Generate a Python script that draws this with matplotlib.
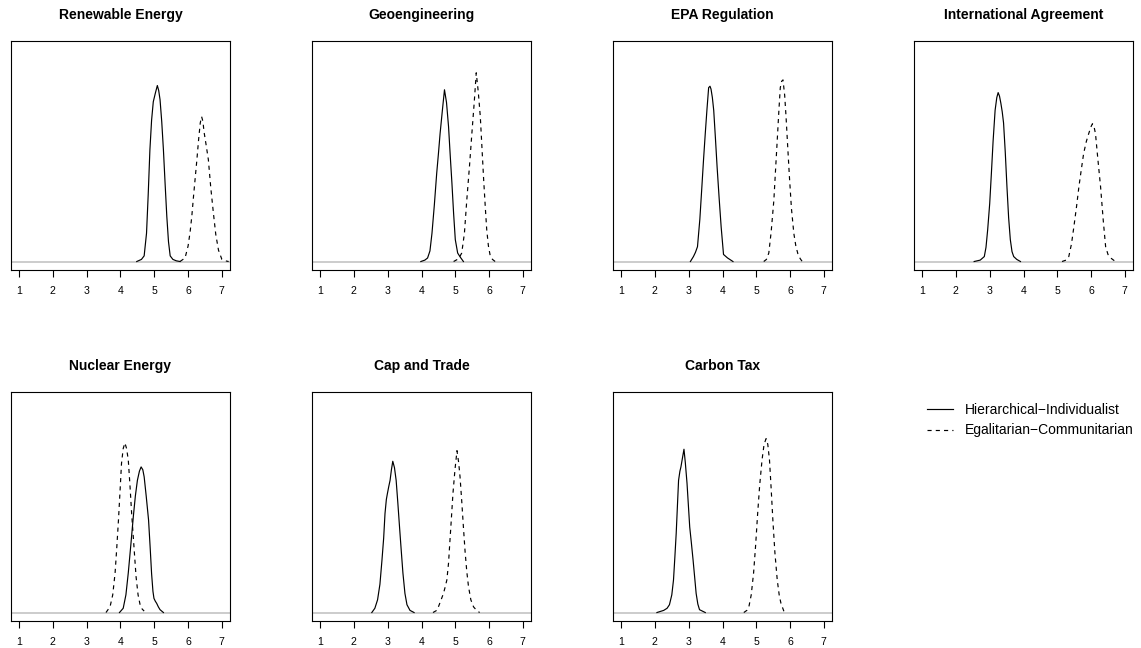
import matplotlib
matplotlib.use("Agg")
import matplotlib.pyplot as plt

plt.rcParams['font.family'] = ['Liberation Sans', 'DejaVu Sans']

# density curves: x = rating (1-7), y = density
renewable_hi_x = [4.48, 4.62, 4.70, 4.77, 4.82, 4.87, 4.92, 4.97, 5.03, 5.09, 5.13, 5.17, 5.22, 5.27, 5.32, 5.37, 5.42, 5.47, 5.55, 5.65, 5.76]
renewable_hi_y = [0, 0.03, 0.08, 0.40, 0.95, 1.58, 2.00, 2.26, 2.38, 2.49, 2.42, 2.29, 1.98, 1.58, 1.10, 0.64, 0.28, 0.08, 0.03, 0.01, 0]
renewable_eg_x = [5.76, 5.91, 6.00, 6.06, 6.11, 6.16, 6.21, 6.26, 6.31, 6.36, 6.40, 6.44, 6.47, 6.53, 6.60, 6.67, 6.75, 6.82, 6.90, 7.00, 7.10, 7.20]
renewable_eg_y = [0, 0.05, 0.22, 0.42, 0.64, 0.92, 1.18, 1.44, 1.72, 1.96, 2.05, 1.98, 1.84, 1.66, 1.44, 1.05, 0.68, 0.38, 0.16, 0.03, 0.01, 0]

geo_hi_x = [3.98, 4.10, 4.18, 4.25, 4.31, 4.38, 4.45, 4.50, 4.55, 4.62, 4.68, 4.74, 4.80, 4.85, 4.90, 4.95, 5.00, 5.07, 5.15, 5.24]
geo_hi_y = [0, 0.02, 0.05, 0.15, 0.40, 0.80, 1.25, 1.52, 1.81, 2.15, 2.43, 2.25, 1.91, 1.50, 1.11, 0.68, 0.31, 0.12, 0.06, 0]
geo_eg_x = [4.95, 5.10, 5.19, 5.27, 5.34, 5.42, 5.49, 5.56, 5.62, 5.68, 5.74, 5.79, 5.84, 5.89, 5.93, 5.98, 6.03, 6.10, 6.18]
geo_eg_y = [0, 0.04, 0.12, 0.40, 0.87, 1.35, 1.81, 2.25, 2.67, 2.40, 2.05, 1.60, 1.15, 0.75, 0.45, 0.22, 0.09, 0.03, 0]

epa_hi_x = [3.05, 3.14, 3.20, 3.26, 3.33, 3.39, 3.44, 3.49, 3.54, 3.59, 3.63, 3.66, 3.70, 3.74, 3.79, 3.84, 3.90, 3.96, 4.03, 4.15, 4.31]
epa_hi_y = [0, 0.07, 0.13, 0.21, 0.60, 1.06, 1.45, 1.81, 2.15, 2.46, 2.48, 2.44, 2.32, 2.14, 1.75, 1.34, 0.90, 0.49, 0.10, 0.05, 0]
epa_eg_x = [5.22, 5.30, 5.37, 5.44, 5.52, 5.57, 5.62, 5.67, 5.71, 5.75, 5.79, 5.84, 5.88, 5.93, 5.98, 6.04, 6.11, 6.17, 6.23, 6.30, 6.36]
epa_eg_y = [0, 0.03, 0.12, 0.42, 0.87, 1.30, 1.72, 2.15, 2.46, 2.55, 2.57, 2.35, 2.05, 1.62, 1.20, 0.75, 0.40, 0.22, 0.11, 0.04, 0]

intl_hi_x = [2.54, 2.72, 2.84, 2.89, 2.94, 3.00, 3.05, 3.10, 3.16, 3.21, 3.25, 3.29, 3.33, 3.37, 3.41, 3.46, 3.51, 3.56, 3.61, 3.66, 3.71, 3.80, 3.91]
intl_hi_y = [0, 0.02, 0.07, 0.20, 0.45, 0.82, 1.25, 1.70, 2.14, 2.32, 2.39, 2.34, 2.24, 2.12, 1.96, 1.55, 1.06, 0.62, 0.31, 0.14, 0.07, 0.03, 0]
intl_eg_x = [5.14, 5.26, 5.34, 5.42, 5.49, 5.57, 5.64, 5.71, 5.78, 5.86, 5.93, 5.99, 6.04, 6.09, 6.13, 6.20, 6.28, 6.36, 6.43, 6.50, 6.58, 6.72]
intl_eg_y = [0, 0.02, 0.07, 0.25, 0.49, 0.78, 1.06, 1.30, 1.53, 1.70, 1.81, 1.90, 1.95, 1.90, 1.81, 1.45, 1.06, 0.58, 0.21, 0.10, 0.05, 0]

nuclear_hi_x = [3.97, 4.08, 4.16, 4.23, 4.31, 4.38, 4.44, 4.50, 4.56, 4.61, 4.66, 4.70, 4.76, 4.83, 4.88, 4.92, 4.96, 4.99, 5.03, 5.07, 5.12, 5.17, 5.27]
nuclear_hi_y = [0, 0.06, 0.25, 0.56, 0.98, 1.36, 1.65, 1.87, 2.00, 2.06, 2.02, 1.92, 1.65, 1.31, 0.90, 0.55, 0.30, 0.20, 0.16, 0.13, 0.08, 0.04, 0]
nuclear_eg_x = [3.57, 3.69, 3.77, 3.84, 3.89, 3.94, 3.99, 4.03, 4.08, 4.13, 4.18, 4.23, 4.28, 4.33, 4.40, 4.46, 4.52, 4.58, 4.64, 4.70]
nuclear_eg_y = [0, 0.08, 0.25, 0.56, 0.92, 1.31, 1.75, 2.11, 2.32, 2.40, 2.32, 2.16, 1.80, 1.40, 0.92, 0.51, 0.25, 0.11, 0.05, 0.02]

cap_hi_x = [2.53, 2.62, 2.70, 2.77, 2.83, 2.88, 2.92, 2.96, 2.99, 3.03, 3.07, 3.11, 3.15, 3.20, 3.25, 3.30, 3.35, 3.40, 3.45, 3.51, 3.57, 3.66, 3.78]
cap_hi_y = [0, 0.06, 0.18, 0.40, 0.74, 1.05, 1.40, 1.60, 1.68, 1.78, 1.87, 2.02, 2.14, 2.05, 1.87, 1.55, 1.21, 0.88, 0.56, 0.27, 0.11, 0.03, 0]
cap_eg_x = [4.34, 4.45, 4.50, 4.58, 4.65, 4.70, 4.75, 4.80, 4.83, 4.88, 4.93, 4.99, 5.05, 5.10, 5.14, 5.19, 5.24, 5.29, 5.34, 5.39, 5.46, 5.54, 5.63, 5.72]
cap_eg_y = [0, 0.03, 0.08, 0.18, 0.27, 0.36, 0.46, 0.70, 0.93, 1.30, 1.68, 2.02, 2.29, 2.12, 1.92, 1.58, 1.21, 0.86, 0.58, 0.37, 0.18, 0.08, 0.03, 0]

carbon_hi_x = [2.06, 2.26, 2.36, 2.43, 2.50, 2.55, 2.59, 2.63, 2.67, 2.70, 2.74, 2.77, 2.82, 2.86, 2.90, 2.95, 2.99, 3.03, 3.08, 3.13, 3.18, 3.22, 3.27, 3.32, 3.49]
carbon_hi_y = [0, 0.03, 0.06, 0.11, 0.25, 0.46, 0.78, 1.12, 1.55, 1.87, 2.00, 2.06, 2.20, 2.31, 2.12, 1.83, 1.52, 1.21, 0.98, 0.74, 0.48, 0.27, 0.12, 0.04, 0]
carbon_eg_x = [4.63, 4.72, 4.78, 4.85, 4.92, 4.98, 5.04, 5.10, 5.17, 5.23, 5.29, 5.34, 5.39, 5.44, 5.49, 5.55, 5.62, 5.68, 5.73, 5.83]
carbon_eg_y = [0, 0.03, 0.08, 0.25, 0.56, 0.95, 1.40, 1.80, 2.16, 2.38, 2.46, 2.38, 2.16, 1.75, 1.31, 0.85, 0.46, 0.24, 0.13, 0]

titles = ["Renewable Energy", "Geoengineering", "EPA Regulation", "International Agreement",
          "Nuclear Energy", "Cap and Trade", "Carbon Tax"]
labels = ["Hierarchical\u2212Individualist", "Egalitarian\u2212Communitarian"]
x_ticks = [1, 2, 3, 4, 5, 6, 7]

panels = [
    (renewable_hi_x, renewable_hi_y, renewable_eg_x, renewable_eg_y),
    (geo_hi_x, geo_hi_y, geo_eg_x, geo_eg_y),
    (epa_hi_x, epa_hi_y, epa_eg_x, epa_eg_y),
    (intl_hi_x, intl_hi_y, intl_eg_x, intl_eg_y),
    (nuclear_hi_x, nuclear_hi_y, nuclear_eg_x, nuclear_eg_y),
    (cap_hi_x, cap_hi_y, cap_eg_x, cap_eg_y),
    (carbon_hi_x, carbon_hi_y, carbon_eg_x, carbon_eg_y),
]

W, H = 1141, 648
fig = plt.figure(figsize=(W / 100, H / 100), dpi=100)

# panel boxes in pixels (left, top), size 219 x 229
lefts = [11, 312, 613, 914]
tops = [41, 392]
box_w, box_h = 219, 229

handles = []
for i, (hx, hy, ex, ey) in enumerate(panels):
    row, col = divmod(i, 4)
    l, t = lefts[col], tops[row]
    ax = fig.add_axes([l / W, (H - t - box_h) / H, box_w / W, box_h / H])
    ax.axhline(0, color='#cccccc', lw=1.4, zorder=1)
    h1, = ax.plot(hx, hy, color='black', lw=0.85, zorder=3)
    h2, = ax.plot(ex, ey, color='black', lw=0.85, dashes=(3.5, 3.5), zorder=3)
    if i == 0:
        handles = [h1, h2]
    ax.set_xlim(0.76, 7.24)
    ax.set_ylim(-0.12, 3.12)
    ax.set_xticks(x_ticks)
    ax.set_xticklabels([str(v) for v in x_ticks])
    ax.set_yticks([])
    ax.tick_params(axis='x', direction='out', length=5, width=0.8, pad=6.5, labelsize=7.6)
    for s in ax.spines.values():
        s.set_linewidth(0.8)
    ax.text(0.5, 1 + 26 / box_h, titles[i], transform=ax.transAxes,
            ha='center', va='center', fontsize=10, fontweight='bold')

fig.legend(handles, labels, loc='center left', bbox_to_anchor=(927 / W, 1 - 420 / H),
           frameon=False, fontsize=10, handlelength=1.85, handletextpad=0.9,
           labelspacing=0.5, borderpad=0, borderaxespad=0)

fig.savefig("out.png", dpi=100)
